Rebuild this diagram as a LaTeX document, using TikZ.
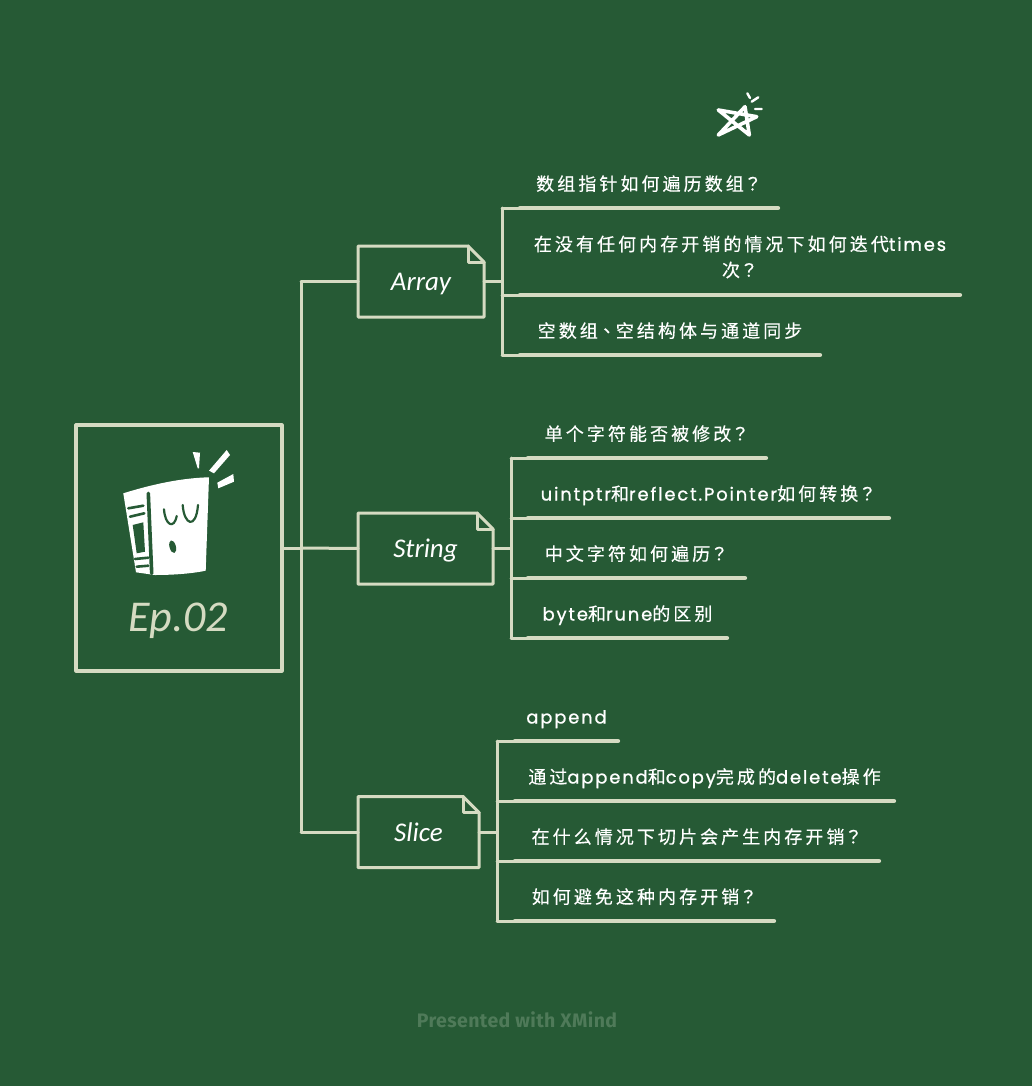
\documentclass[tikz,border=0pt]{standalone}
\usepackage{fontspec}
\newfontfamily\cjk[LetterSpace=17,FakeBold=0.4]{Noto Sans CJK SC}
\newfontfamily\cjkq[LetterSpace=17,FakeBold=0.4]{Noto Sans CJK TC}
\newfontfamily\lat[LetterSpace=10,FakeBold=0.8]{Poppins}
\newfontfamily\hand{Carlito}
\newfontfamily\creditfont[LetterSpace=2]{Fira Sans}
\definecolor{board}{HTML}{265A35}
\definecolor{chalk}{HTML}{D5DBC2}
\definecolor{faint}{HTML}{4F7A59}
\begin{document}
\begin{tikzpicture}[x=1pt,y=-1pt,inner sep=0pt,outer sep=0pt,line join=round,line cap=round,
chalkline/.style={draw=chalk,line width=3pt},
leafline/.style={draw=chalk,line width=4.2pt},
rootblock/.style={draw=chalk,line width=3.2pt,minimum width=206pt,minimum height=246pt},
notebox/.style={text=white,minimum height=71pt,text height=22pt,text depth=4pt,font=\hand\itshape\fontsize{27}{30}\selectfont},
leafnode/.style={text=white,anchor=south,align=center,minimum height=48pt,text height=15.5pt,text depth=2.5pt,font=\cjk\fontsize{18}{26}\selectfont}]
\useasboundingbox[fill=board] (0,0) rectangle (1032,1086);

% root block and its icon
\draw (179,548) node[rootblock] (root) {};
\fill[white] (123.3,493.3) .. controls (150,485) and (180,478) .. (209,477.3) -- (205.7,570.7) .. controls (190,574) and (170,575) .. (155,575) -- (136,572.3) -- cycle;
\draw[board,line width=3.6pt] (148.3,493.3) -- (151.7,573.3);
\draw[board,line width=2.6pt] (128.3,508.3) -- (143.3,505.7) (130,516.7) -- (144.3,513.3) (135,559) -- (148.3,557.7) (136.7,566.7) -- (148.3,565.7);
\fill[board] (132.7,525) -- (143.3,522.3) -- (145,551.7) -- (136.7,553.3) -- cycle;
\draw[board,line width=2.2pt] (164,509.3) .. controls (165,525) and (174,530) .. (176.7,516) (182.7,505) .. controls (184,525) and (196,530) .. (198,505);
\fill[board,rotate around={15:(172.7,546.7)}] (172.7,546.7) ellipse (3.2pt and 6.5pt);
\fill[white] (192.7,452) -- (200,452.7) -- (199,468.3) -- (197.7,468.3) -- cycle;
\fill[white] (226.7,450) -- (230,455) -- (214,473.3) -- (209,470.7) -- cycle;
\fill[white] (217.3,482.7) -- (233.3,474) -- (234,481.7) -- (218.3,488.3) -- cycle;
\draw (178,621) node[text=chalk,font=\hand\itshape\fontsize{44}{48}\selectfont] (ep) {Ep.02};

% star
\draw[white,line width=3.6pt] (718.3,135) -- (745,106.7) -- (749.3,135) -- (718.3,110) -- (756.7,116.7) -- cycle;
\draw[white,line width=2.4pt] (747.3,93.3) -- (750,98) (751.7,101.7) -- (758.3,97.3) (755,109) -- (761.7,109);

% branches
\draw (421,281.5) node[notebox,minimum width=126pt] (Array) {Array};
\draw (425.5,548.5) node[notebox,minimum width=135pt] (String) {String};
\draw (418.5,832) node[notebox,minimum width=121pt] (Slice) {Slice};
\draw[chalkline] (Array.north west) -- ([xshift=-16pt]Array.north east) -- ([yshift=-16pt]Array.north east) -- (Array.south east) -- (Array.south west) -- cycle;
\draw[chalkline] ([xshift=-16pt]Array.north east) -- ++(0,16) -- ([yshift=-16pt]Array.north east);
\draw[chalkline] (String.north west) -- ([xshift=-16pt]String.north east) -- ([yshift=-16pt]String.north east) -- (String.south east) -- (String.south west) -- cycle;
\draw[chalkline] ([xshift=-16pt]String.north east) -- ++(0,16) -- ([yshift=-16pt]String.north east);
\draw[chalkline] (Slice.north west) -- ([xshift=-16pt]Slice.north east) -- ([yshift=-16pt]Slice.north east) -- (Slice.south east) -- (Slice.south west) -- cycle;
\draw[chalkline] ([xshift=-16pt]Slice.north east) -- ++(0,16) -- ([yshift=-16pt]Slice.north east);

\draw[chalkline] (root.east) -- ++(19,0) coordinate (hub);
\draw[chalkline] (hub |- Array.west) -- (hub |- Slice.west);
\draw[chalkline] (hub |- Array.west) -- (Array.west);
\draw[chalkline] (hub) -- (String.west);
\draw[chalkline] (hub |- Slice.west) -- (Slice.west);

% array leaves
\draw (649,208) node[leafnode,minimum width=258pt] (a1) {数组指针如何遍历数组{\cjkq ？}};
\draw (740,295) node[leafnode,minimum width=440pt,minimum height=76pt,text height=,text depth=] (a2) {在没有任何内存开销的情况下如何迭代{\lat times}\\次{\cjkq ？}};
\draw (670,355) node[leafnode,minimum width=300pt] (a3) {空数组{\cjkq 、}空结构体与通道同步};
\draw[leafline] (a1.south west) -- (a1.south east);
\draw[leafline] (a2.south west) -- (a2.south east);
\draw[leafline] (a3.south west) -- (a3.south east);
\draw[chalkline] (Array.east) -- ++(18,0) coordinate (arrayjoint);
\draw[chalkline] (arrayjoint |- a1.south) -- (arrayjoint |- a3.south);
\draw[chalkline] (arrayjoint |- a1.south) -- (a1.south west);
\draw[chalkline] (arrayjoint |- a2.south) -- (a2.south west);
\draw[chalkline] (arrayjoint |- a3.south) -- (a3.south west);

% string leaves
\draw (647,458) node[leafnode,minimum width=238pt] (s1) {单个字符能否被修改{\cjkq ？}};
\draw (708.5,518) node[leafnode,minimum width=361pt] (s2) {{\lat uintptr}和{\lat reflect.Pointer}如何转换{\cjkq ？}};
\draw (636.5,578) node[leafnode,minimum width=217pt] (s3) {中文字符如何遍历{\cjkq ？}};
\draw (627.5,638) node[leafnode,minimum width=199pt] (s4) {{\lat byte}和{\lat rune}的区别};
\draw[leafline] (s1.south west) -- (s1.south east);
\draw[leafline] (s2.south west) -- (s2.south east);
\draw[leafline] (s3.south west) -- (s3.south east);
\draw[leafline] (s4.south west) -- (s4.south east);
\draw[chalkline] (String.east) -- ++(18,0) coordinate (stringjoint);
\draw[chalkline] (stringjoint |- s1.south) -- (stringjoint |- s4.south);
\draw[chalkline] (stringjoint |- s1.south) -- (s1.south west);
\draw[chalkline] (stringjoint |- s2.south) -- (s2.south west);
\draw[chalkline] (stringjoint |- s3.south) -- (s3.south west);
\draw[chalkline] (stringjoint |- s4.south) -- (s4.south west);

% slice leaves
\draw (566.5,741) node[leafnode,minimum width=103pt] (c1) {\lat append};
\draw (704.5,801) node[leafnode,minimum width=379pt] (c2) {通过{\lat append}和{\lat copy}完成的{\lat delete}操作};
\draw (697,861) node[leafnode,minimum width=364pt] (c3) {在什么情况下切片会产生内存开销{\cjkq ？}};
\draw (644.5,921) node[leafnode,minimum width=259pt] (c4) {如何避免这种内存开销{\cjkq ？}};
\draw[leafline] (c1.south west) -- (c1.south east);
\draw[leafline] (c2.south west) -- (c2.south east);
\draw[leafline] (c3.south west) -- (c3.south east);
\draw[leafline] (c4.south west) -- (c4.south east);
\draw[chalkline] (Slice.east) -- ++(18,0) coordinate (slicejoint);
\draw[chalkline] (slicejoint |- c1.south) -- (slicejoint |- c4.south);
\draw[chalkline] (slicejoint |- c1.south) -- (c1.south west);
\draw[chalkline] (slicejoint |- c2.south) -- (c2.south west);
\draw[chalkline] (slicejoint |- c3.south) -- (c3.south west);
\draw[chalkline] (slicejoint |- c4.south) -- (c4.south west);

\draw (517,1020) node[text=faint,font=\creditfont\bfseries\fontsize{19.5}{22}\selectfont] (credit) {Presented with XMind};
\end{tikzpicture}
\end{document}
